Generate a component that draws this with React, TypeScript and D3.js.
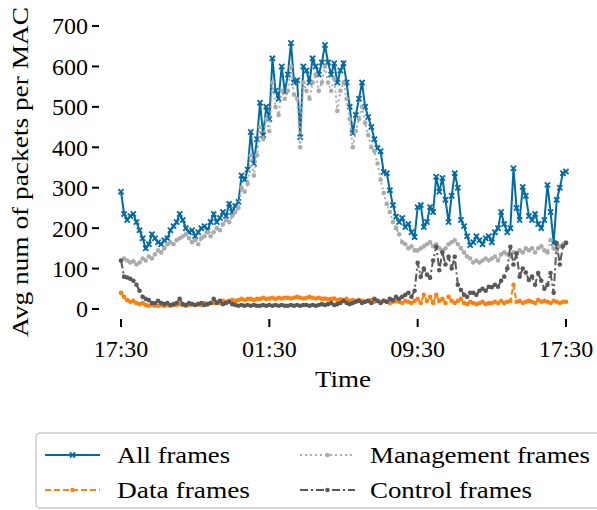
import React from "react";
import * as d3 from "d3";

// 10-minute samples from 17:30 to 17:30 next day
const startTime = new Date(2020, 0, 1, 17, 30);
const stepMinutes = 10;

const allFrames = [
  290, 235, 220, 230, 235, 215,
  195, 175, 150, 160, 185, 175,
  165, 160, 170, 175, 195, 205,
  215, 235, 220, 200, 190, 195,
  180, 190, 200, 205, 195, 215,
  235, 215, 225, 240, 230, 260,
  240, 255, 265, 330, 320, 345,
  438, 360, 420, 510, 430, 500,
  470, 620, 540, 520, 600, 537,
  580, 658, 560, 566, 425, 600,
  590, 560, 620, 600, 580, 610,
  653, 610, 580, 608, 560, 590,
  608, 560, 500, 435, 480, 520,
  560, 500, 475, 450, 420, 398,
  390, 339, 336, 294, 257, 228,
  215, 225, 203, 210, 190, 178,
  252, 257, 203, 215, 252, 240,
  327, 290, 324, 270, 215, 280,
  336, 300, 220, 205, 180, 158,
  165, 180, 170, 160, 175, 180,
  165, 190, 200, 240, 210, 190,
  200, 348, 250, 220, 302, 280,
  230, 220, 235, 210, 200, 220,
  307, 240, 163, 270, 300, 336,
  340,
];

const mgmtFrames = [
  120, 125, 120, 115, 118, 110,
  115, 125, 120, 130, 125, 135,
  145, 140, 150, 160, 165, 160,
  170, 175, 180, 185, 175, 165,
  170, 160, 175, 180, 190, 180,
  190, 200, 195, 210, 220, 215,
  230, 240, 250, 300, 290, 310,
  380, 330, 380, 450, 420, 470,
  440, 560, 500, 480, 540, 520,
  540, 600, 530, 520, 400, 560,
  540, 520, 560, 580, 540, 560,
  600, 560, 540, 570, 490, 540,
  560, 520, 470, 400, 440, 470,
  500, 460, 430, 400, 390, 360,
  320, 287, 260, 240, 215, 200,
  185, 165, 160, 150, 155, 145,
  145, 150, 155, 160, 165, 155,
  160, 150, 145, 150, 160, 165,
  170, 160, 150, 140, 130, 125,
  115, 120, 115, 120, 125, 120,
  125, 130, 120, 135, 140, 135,
  130, 140, 135, 145, 140, 150,
  145, 150, 140, 150, 155, 145,
  140, 170, 150, 145, 155, 160,
  165,
];

const dataFrames = [
  40, 30, 22, 18, 20, 15,
  12, 15, 10, 8, 10, 8,
  8, 10, 8, 10, 8, 10,
  10, 12, 10, 8, 10, 12,
  10, 12, 10, 15, 12, 15,
  15, 18, 15, 20, 18, 20,
  22, 20, 22, 25, 22, 25,
  25, 22, 25, 25, 28, 25,
  26, 28, 25, 28, 26, 28,
  28, 26, 28, 30, 28, 26,
  28, 30, 28, 26, 28, 25,
  26, 24, 25, 26, 22, 24,
  22, 25, 20, 22, 20, 22,
  20, 18, 20, 22, 18, 20,
  18, 20, 18, 15, 18, 20,
  18, 15, 20, 18, 15, 20,
  25, 15, 35, 20, 30, 15,
  35, 20, 25, 15, 30, 20,
  15, 20, 25, 15, 12, 18,
  15, 12, 15, 18, 12, 15,
  15, 18, 15, 20, 15, 18,
  20, 60, 18, 20, 15, 18,
  20, 18, 15, 22, 18, 20,
  18, 15, 20, 18, 15, 18,
  18,
];

const ctrlFrames = [
  120, 80, 78, 75, 70, 60,
  45, 30, 25, 22, 15, 15,
  20, 15, 12, 15, 10, 12,
  15, 25, 12, 10, 15, 12,
  10, 12, 15, 10, 12, 15,
  25, 15, 20, 12, 15, 18,
  12, 10, 8, 10, 8, 10,
  8, 10, 8, 8, 10, 8,
  10, 8, 10, 8, 10, 8,
  8, 10, 8, 10, 8, 10,
  10, 8, 10, 8, 10, 12,
  10, 12, 15, 10, 12, 15,
  20, 15, 12, 15, 18, 20,
  15, 18, 20, 15, 25, 20,
  15, 20, 18, 25, 22, 30,
  25, 30, 35, 40, 30, 45,
  114, 80, 100, 85, 77, 120,
  154, 96, 140, 110, 129, 100,
  129, 60, 47, 35, 30, 40,
  40, 35, 45, 50, 45, 55,
  54, 60, 55, 70, 80, 100,
  154, 110, 138, 80, 100, 90,
  72, 80, 60, 89, 70, 50,
  60, 89, 40, 163, 110, 155,
  163,
];

const yTicks = [0, 100, 200, 300, 400, 500, 600, 700];
const xTickLabels = ["17:30", "01:30", "09:30", "17:30"];

const W = 597;
const H = 510;
const FONT = "'Liberation Serif', 'DejaVu Serif', serif";
const FS = 24;

type Series = {
  name: string;
  values: number[];
  color: string;
  dash: string;
  marker: "x" | "dot";
  width: number;
  textLen: number;
};

const series: Series[] = [
  { name: "All frames", values: allFrames, color: "#006BA4", dash: "", marker: "x", width: 2, textLen: 113 },
  { name: "Data frames", values: dataFrames, color: "#FF800E", dash: "6,3", marker: "dot", width: 2, textLen: 133 },
  { name: "Management frames", values: mgmtFrames, color: "#ABABAB", dash: "2,3", marker: "dot", width: 2, textLen: 220 },
  { name: "Control frames", values: ctrlFrames, color: "#595959", dash: "8,3,2,3", marker: "dot", width: 2, textLen: 162 },
];

export default function App() {
  const t0 = startTime.getTime();
  const t1 = t0 + 24 * 3600 * 1000;
  const x = d3.scaleTime().domain([new Date(t0), new Date(t1)]).range([121, 566]);
  const y = d3.scaleLinear().domain([0, 700]).range([309, 26]);
  const timeOf = (i: number) => new Date(t0 + i * stepMinutes * 60000);
  const xTicks = [0, 8, 16, 24].map((h) => new Date(t0 + h * 3600 * 1000));

  const line = d3
    .line<number>()
    .x((_, i) => x(timeOf(i)))
    .y((d) => y(d));

  const marker = (s: Series, cx: number, cy: number, key: string | number) => {
    if (s.marker === "x") {
      const r = 2.6;
      return (
        <path
          key={key}
          d={`M${cx - r},${cy - r}L${cx + r},${cy + r}M${cx - r},${cy + r}L${cx + r},${cy - r}`}
          stroke={s.color}
          strokeWidth={1.8}
        />
      );
    }
    return <circle key={key} cx={cx} cy={cy} r={2.3} fill={s.color} />;
  };

  return (
    <svg
      width={W}
      height={H}
      style={{ position: "absolute", left: 0, top: 0, background: "#fff" }}
      fontFamily={FONT}
    >
      {/* Y axis ticks */}
      {yTicks.map((v) => (
        <g key={v}>
          <line x1={92} x2={99} y1={y(v)} y2={y(v)} stroke="#000" strokeWidth={2} />
          <text x={88} y={y(v)} dy="0.35em" textAnchor="end" fontSize={FS}>
            {v}
          </text>
        </g>
      ))}
      {/* X axis ticks */}
      {xTicks.map((t, i) => (
        <g key={i}>
          <line x1={x(t)} x2={x(t)} y1={319} y2={327} stroke="#000" strokeWidth={2} />
          <text x={x(t)} y={357} textAnchor="middle" fontSize={FS}>
            {xTickLabels[i]}
          </text>
        </g>
      ))}
      <text x={343} y={387} textAnchor="middle" fontSize={FS} textLength={56} lengthAdjust="spacingAndGlyphs">
        Time
      </text>
      <text
        transform={`translate(28, 172) rotate(-90)`}
        textAnchor="middle"
        fontSize={FS}
        textLength={330}
        lengthAdjust="spacingAndGlyphs"
      >
        Avg num of packets per MAC
      </text>

      {/* Series */}
      {series.map((s, si) => (
        <g key={si}>
          <path
            d={line(s.values) || ""}
            fill="none"
            stroke={s.color}
            strokeWidth={s.width}
            strokeDasharray={s.dash}
          />
          {s.values.map((v, i) => marker(s, x(timeOf(i)), y(v), i))}
        </g>
      ))}

      {/* Legend */}
      <rect x={36} y={433} width={600} height={75} rx={4} fill="#fff" stroke="#cccccc" strokeWidth={1.5} />
      {series.map((s, k) => {
        const col = Math.floor(k / 2);
        const row = k % 2;
        const lx = col === 0 ? 45 : 300;
        const tx = col === 0 ? 117 : 370;
        const ly = row === 0 ? 455 : 490;
        return (
          <g key={k}>
            <line x1={lx} x2={lx + 55} y1={ly} y2={ly} stroke={s.color} strokeWidth={2} strokeDasharray={s.dash} />
            {marker(s, lx + 27.5, ly, "m")}
            <text x={tx} y={ly} dy="0.35em" fontSize={FS} textLength={s.textLen} lengthAdjust="spacingAndGlyphs">
              {s.name}
            </text>
          </g>
        );
      })}
    </svg>
  );
}
